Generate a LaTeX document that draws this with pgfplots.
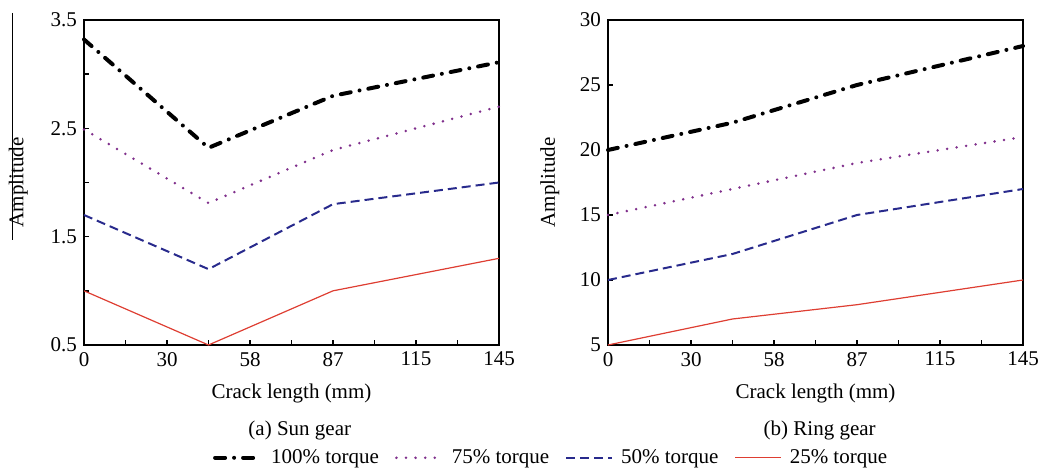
\documentclass[border=0pt]{standalone}
\usepackage{fontspec}
\setmainfont{Liberation Serif}
\usepackage{pgfplots}
\pgfplotsset{compat=1.18}

\definecolor{cPurple}{RGB}{128,48,140}
\definecolor{cBlue}{RGB}{40,42,140}
\definecolor{cRed}{RGB}{222,62,50}

\pgfplotsset{
  gearstyle/.style={
    scale only axis,
    width=207.5pt, height=162.5pt,
    xmin=0, xmax=145,
    xtick={0,14.5,29,43.5,58,72.5,87,101.5,116,130.5,145},
    xticklabels={0,,30,,58,,87,,115,,145},
    xtick pos=bottom, ytick pos=left,
    tick align=inside, major tick length=2.5pt,
    axis line style={line width=0.8pt},
    every tick/.style={black, line width=0.7pt},
    /pgf/number format/assume math mode=true,
    tick label style={font=\fontsize{10.5}{12}\selectfont},
    label style={font=\fontsize{10.5}{12}\selectfont},
    xlabel={Crack length (mm)},
    ylabel={Amplitude},
    xlabel style={at={(axis description cs:0.5,-0.148)}, anchor=center},
    clip=false,
  },
  s100/.style={black, line width=2pt, line cap=round, dash pattern=on 5pt off 4.5pt on 0pt off 4.5pt},
  s75/.style={cPurple, line width=1.4pt, line cap=round, dash pattern=on 0pt off 4.8pt},
  s50/.style={cBlue, line width=1pt, dash pattern=on 4.5pt off 2.5pt},
  s25/.style={cRed, line width=0.6pt},
}

\begin{document}
\begin{tikzpicture}
\useasboundingbox (0,0) rectangle (519pt,235pt);

% stray rule left of the first y label
\draw[line width=0.5pt] (6pt,228.6pt) -- (6pt,115pt);

\begin{axis}[gearstyle,
  at={(42pt,62.5pt)}, anchor=south west,
  ymin=0.5, ymax=3.5,
  ytick={0.5,1,1.5,2,2.5,3,3.5},
  yticklabels={0.5,,1.5,,2.5,,3.5},
  ylabel style={at={(axis description cs:-0.158,0.5)}, anchor=center},
  legend columns=4,
  legend style={at={(axis description cs:1.128,-0.347)}, anchor=center, draw=none,
    font=\fontsize{10.5}{12}\selectfont, column sep=2pt, inner sep=1pt,
    /tikz/every even column/.append style={column sep=6pt}},
  legend image code/.code={\draw[#1] (0pt,0pt) -- (23pt,0pt);},
]
\addplot[s100] coordinates {(0,3.32) (43.5,2.32) (87,2.80) (145,3.11)};
\addlegendentry{100\% torque}
\addplot[s75] coordinates {(0,2.49) (43.5,1.81) (87,2.30) (145,2.70)};
\addlegendentry{75\% torque}
\addplot[s50] coordinates {(0,1.70) (43.5,1.20) (87,1.80) (145,2.00)};
\addlegendentry{50\% torque}
\addplot[s25] coordinates {(0,1.00) (43.5,0.50) (87,1.00) (145,1.30)};
\addlegendentry{25\% torque}
\node[font=\fontsize{10.5}{12}\selectfont] at (axis description cs:0.52,-0.262) {(a) Sun gear};
\end{axis}

\begin{axis}[gearstyle,
  at={(304pt,62.5pt)}, anchor=south west,
  ymin=5, ymax=30,
  ytick={5,10,15,20,25,30},
  ylabel style={at={(axis description cs:-0.14,0.5)}, anchor=center},
]
\addplot[s100] coordinates {(0,20) (43.5,22.1) (87,25) (145,28)};
\addplot[s75] coordinates {(0,15) (43.5,17) (87,19) (145,21)};
\addplot[s50] coordinates {(0,10) (43.5,12) (87,15) (145,17)};
\addplot[s25] coordinates {(0,5) (43.5,7) (87,8.1) (145,10)};
\node[font=\fontsize{10.5}{12}\selectfont] at (axis description cs:0.51,-0.262) {(b) Ring gear};
\end{axis}
\end{tikzpicture}
\end{document}
